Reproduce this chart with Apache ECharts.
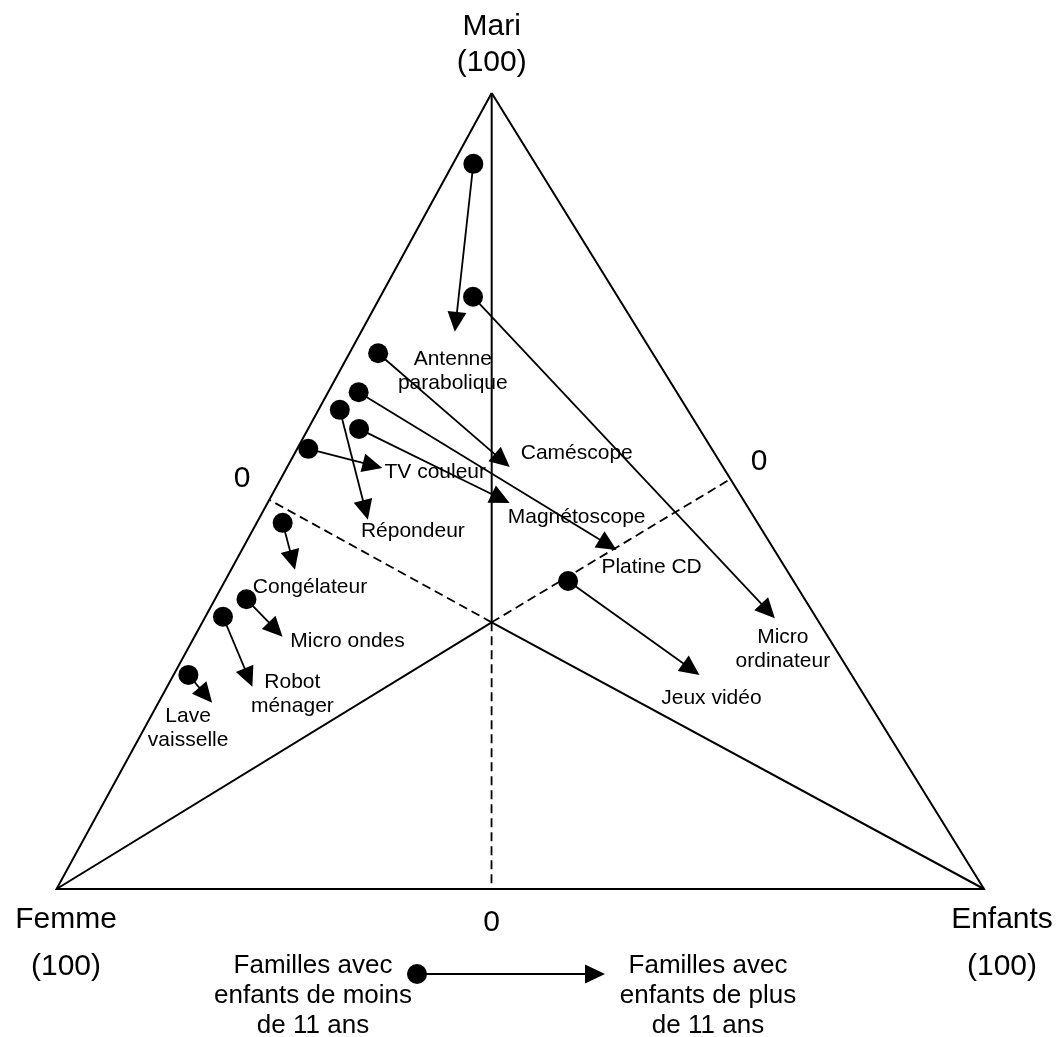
<!DOCTYPE html>
<html><head><meta charset="utf-8">
<script src="https://cdn.jsdelivr.net/npm/echarts/dist/echarts.min.js"></script>
<style>html,body{margin:0;padding:0;background:#fff}#c{width:1056px;height:1037px}</style>
</head><body><div id="c"></div>
<script>
// ---- DATA: shares in % as [Mari, Femme, Enfants] ----
const products = ['Antenne\nparabolique','Micro\nordinateur','Caméscope','Platine CD','Répondeur','Magnétoscope','TV couleur','Congélateur','Micro ondes','Robot\nménager','Lave\nvaisselle','Jeux vidéo'];
// Familles avec enfants de moins de 11 ans
const moins11 = [[91.1,6.7,2.2],[74.4,15.6,10.0],[67.3,29.6,3.1],[62.4,34.3,3.3],[60.2,37.5,2.3],[57.8,36.7,5.5],[55.3,43.5,1.2],[46.0,51.2,2.8],[36.4,60.2,3.4],[34.2,63.9,1.9],[26.9,71.5,1.6],[38.7,24.3,37.0]];
// Familles avec enfants de plus de 11 ans
const plus11 = [[70.0,19.9,10.1],[34.0,4.5,61.5],[53.0,23.0,24.0],[42.6,17.0,40.4],[46.4,41.8,11.8],[48.5,25.4,26.1],[52.9,36.8,10.3],[40.1,53.0,6.9],[31.7,58.8,9.5],[25.4,65.4,9.2],[23.4,70.8,5.8],[26.9,16.4,56.7]];
const vertexNames = ['Mari','Femme','Enfants'];
const vertices = [[100,0,0],[0,100,0],[0,0,100]];
const centre = [33.5,35.3,31.2];
const zeroPoints = [[48.9,51.1,0],[51.5,0,48.5],[0,53.1,46.9]];
const zeroLabel = '0';
const vertexValue = '(100)';
const legendTexts = ['Familles avec\nenfants de moins\nde 11 ans','Familles avec\nenfants de plus\nde 11 ans'];

// ---- LAYOUT (not data) ----
const APEX = 0.4692; // horizontal position of the Mari apex along the base
const labelOffsets = [[-2,39],[8,31],[67,-14],[35,17],[45,12],[67,14],[53,4],[15,17],[65,5],[40,7],[-24,25],[12,23]];
const FONT = '"Liberation Sans", Arial, sans-serif';

function toXY(t){ return [t[2] + APEX*t[0], t[0]]; }

const chart = echarts.init(document.getElementById('c'), null, {renderer:'canvas'});

const frameSeg = [
  [vertices[0], vertices[1], vertices[2], vertices[0]],
  [centre, vertices[0]],
  [centre, vertices[1]],
  [centre, vertices[2]]
];
const dashSeg = zeroPoints.map(z => [centre, z]);

const arrowData = products.map((n,i)=>{
  const a = toXY(moins11[i]), b = toXY(plus11[i]);
  return [a[0], a[1], b[0], b[1], i];
});

function arrowShapes(p1, p2, withDot){
  const dx = p2[0]-p1[0], dy = p2[1]-p1[1];
  const len = Math.sqrt(dx*dx+dy*dy);
  const ux = dx/len, uy = dy/len;
  const L = 20, W = 9.5;
  const bx = p2[0]-ux*L, by = p2[1]-uy*L;
  const out = [
    {type:'line', shape:{x1:p1[0], y1:p1[1], x2:bx+ux*2, y2:by+uy*2}, style:{stroke:'#000', lineWidth:1.8}},
    {type:'polygon', shape:{points:[[p2[0],p2[1]],[bx-uy*W, by+ux*W],[bx+uy*W, by-ux*W]]}, style:{fill:'#000'}}
  ];
  if (withDot) out.push({type:'circle', shape:{cx:p1[0], cy:p1[1], r:10}, style:{fill:'#000'}});
  return out;
}

const option = {
  animation: false,
  backgroundColor: '#fff',
  grid: {left: 56.5, top: 93, width: 927.5, height: 796, show: false},
  xAxis: {type:'value', min:0, max:100, show:false},
  yAxis: {type:'value', min:0, max:100, show:false},
  series: [
    {
      type:'lines', coordinateSystem:'cartesian2d', polyline:true, silent:true,
      data: frameSeg.map(s => ({coords: s.map(toXY)})),
      lineStyle:{color:'#000', width:2, opacity:1}
    },
    {
      type:'lines', coordinateSystem:'cartesian2d', polyline:true, silent:true,
      data: dashSeg.map(s => ({coords: s.map(toXY)})),
      lineStyle:{color:'#000', width:1.8, type:[9,5], opacity:1}
    },
    {
      type:'custom', coordinateSystem:'cartesian2d', silent:true,
      data: arrowData,
      encode: {x:[0,2], y:[1,3]},
      renderItem: function(params, api){
        const p1 = api.coord([api.value(0), api.value(1)]);
        const p2 = api.coord([api.value(2), api.value(3)]);
        const i = api.value(4);
        const ch = arrowShapes(p1, p2, true);
        const off = labelOffsets[i];
        ch.push({type:'text', style:{text: products[i], x: p2[0]+off[0], y: p2[1]+off[1],
          align:'center', verticalAlign:'middle', fontSize:21, lineHeight:24, fontFamily:FONT, fill:'#000'}});
        return {type:'group', children: ch};
      }
    }
  ],
  graphic: [
    {type:'text', x:491.7, y:45, style:{text: vertexNames[0]+'\n'+vertexValue, align:'center', verticalAlign:'middle', fontSize:30, lineHeight:36, fontFamily:FONT, fill:'#000'}},
    {type:'text', x:66, y:943, style:{text: vertexNames[1]+'\n'+vertexValue, align:'center', verticalAlign:'middle', fontSize:30, lineHeight:47, fontFamily:FONT, fill:'#000'}},
    {type:'text', x:1002, y:943, style:{text: vertexNames[2]+'\n'+vertexValue, align:'center', verticalAlign:'middle', fontSize:30, lineHeight:47, fontFamily:FONT, fill:'#000'}},
    {type:'text', x:242, y:479, style:{text: zeroLabel, align:'center', verticalAlign:'middle', fontSize:30, fontFamily:FONT, fill:'#000'}},
    {type:'text', x:759, y:462, style:{text: zeroLabel, align:'center', verticalAlign:'middle', fontSize:30, fontFamily:FONT, fill:'#000'}},
    {type:'text', x:491.7, y:923, style:{text: zeroLabel, align:'center', verticalAlign:'middle', fontSize:30, fontFamily:FONT, fill:'#000'}},
    {type:'circle', shape:{cx:417, cy:974, r:10}, style:{fill:'#000'}},
    {type:'line', shape:{x1:417, y1:974, x2:588, y2:974}, style:{stroke:'#000', lineWidth:2}},
    {type:'polygon', shape:{points:[[605,974],[585,964.5],[585,983.5]]}, style:{fill:'#000'}},
    {type:'text', x:313, y:996, style:{text: legendTexts[0], align:'center', verticalAlign:'middle', fontSize:26, lineHeight:30, fontFamily:FONT, fill:'#000'}},
    {type:'text', x:708, y:996, style:{text: legendTexts[1], align:'center', verticalAlign:'middle', fontSize:26, lineHeight:30, fontFamily:FONT, fill:'#000'}}
  ]
};
chart.setOption(option);
</script>
</body></html>
